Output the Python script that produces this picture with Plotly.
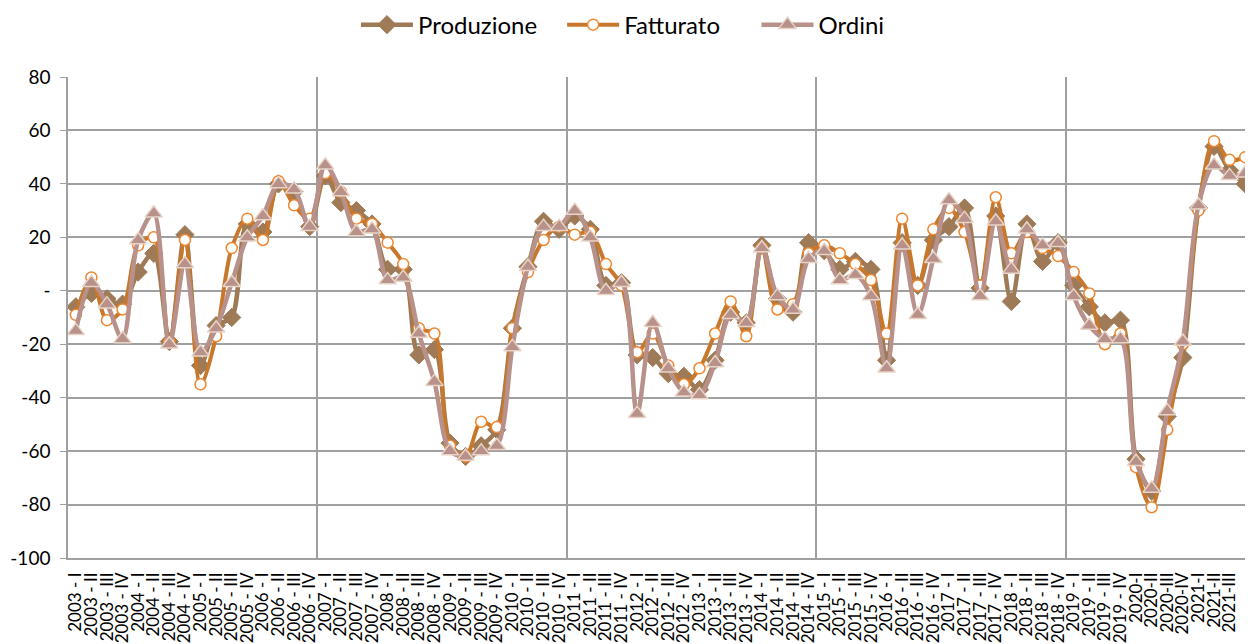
import plotly.graph_objects as go

years = list(range(2003, 2022))
quarters = ["I", "II", "III", "IV"]
labels = []
for y in years:
    for q in quarters:
        labels.append(f"{y}-{q}" if y >= 2020 else f"{y} - {q}")

produzione = [
    -6, -1, -3, -5, 7, 14, -19, 21, -28, -13, -10, 25, 22, 40, 37, 24,
    43, 33, 30, 25, 8, 8, -24, -22, -57, -62, -58, -52, -14, 9, 26, 23,
    28, 23, 2, 3, -24, -25, -31, -32, -37, -26, -8, -12, 17, -3, -8, 18,
    15, 8, 11, 8, -26, 18, 2, 19, 24, 31, 1, 28, -4, 25, 11, 18,
    2, -6, -12, -11, -63, -75, -47, -25, 31, 54, 45, 40,
]
fatturato = [
    -9, 5, -11, -7, 17, 20, -19, 19, -35, -17, 16, 27, 19, 41, 32, 27,
    44, 37, 27, 25, 18, 10, -14, -16, -58, -62, -49, -51, -14, 7, 19, 24,
    21, 22, 10, 2, -23, -16, -28, -35, -29, -16, -4, -17, 16, -7, -5, 14,
    17, 14, 10, 4, -16, 27, 2, 23, 31, 22, 2, 35, 14, 22, 16, 13,
    7, -1, -20, -16, -66, -81, -52, -20, 30, 56, 49, 50,
]
ordini = [
    -15, 3, -5, -18, 19, 29, -20, 10, -23, -14, 3, 20, 28, 40, 38, 24,
    47, 37, 22, 23, 4, 5, -16, -34, -60, -62, -60, -58, -21, 9, 24, 24,
    30, 20, 0, 3, -46, -12, -29, -38, -39, -27, -9, -12, 16, -2, -7, 12,
    15, 4, 6, -2, -29, 17, -9, 12, 34, 27, -2, 26, 8, 23, 17, 18,
    -2, -13, -18, -18, -64, -74, -45, -19, 32, 47, 43, 44,
]

y_ticks = list(range(-100, 81, 20))
y_ticktext = ["-" if v == 0 else str(v) for v in y_ticks]

idx = list(range(len(labels)))
# vertical gridlines between every 4-year block (between categories)
block_edges = [i - 0.5 for i in idx if i > 0 and i % 16 == 0]

fig = go.Figure()
fig.add_trace(go.Scatter(
    x=idx, y=produzione, name="Produzione", mode="lines+markers", legend="legend",
    line=dict(color="#9E7B56", width=4.5, shape="spline", smoothing=0.9),
    marker=dict(symbol="diamond", size=14, color="#9E7B56",
                line=dict(color="#9E7B56", width=1)),
))
fig.add_trace(go.Scatter(
    x=idx, y=fatturato, name="Fatturato", mode="lines+markers", legend="legend2",
    line=dict(color="#C8782C", width=4, shape="spline", smoothing=0.9),
    marker=dict(symbol="circle", size=11, color="white",
                line=dict(color="#F0862E", width=1.5)),
))
fig.add_trace(go.Scatter(
    x=idx, y=ordini, name="Ordini", mode="lines+markers", legend="legend3",
    line=dict(color="#B8918A", width=4.5, shape="spline", smoothing=0.9),
    marker=dict(symbol="triangle-up", size=15, color="#B8918A",
                line=dict(color="#E8D4C6", width=1.5)),
))

leg_common = dict(orientation="h", xanchor="left", y=1.108, yanchor="middle",
                  font=dict(size=24), itemwidth=52, bgcolor="rgba(0,0,0,0)")

fig.update_layout(
    width=1245, height=636,
    margin=dict(l=60, r=0, t=69, b=86, autoexpand=False),
    paper_bgcolor="white", plot_bgcolor="white",
    font=dict(family="Lato, Open Sans, sans-serif", color="black"),
    showlegend=True,
    legend=dict(x=0.243, **leg_common),
    legend2=dict(x=0.417, **leg_common),
    legend3=dict(x=0.581, **leg_common),
    xaxis=dict(
        range=[-0.5, len(labels) - 0.5],
        tickvals=idx, ticktext=labels, tickangle=-90,
        tickfont=dict(size=17), showgrid=False,
        showline=True, linecolor="#A0A0A0", linewidth=1.5,
        ticks="", ticklabelstandoff=6, zeroline=False, automargin=False,
        minor=dict(tickvals=block_edges, showgrid=True, gridcolor="#A0A0A0", gridwidth=1.5, ticks=""),
    ),
    yaxis=dict(
        range=[-100, 80], tickvals=y_ticks, ticktext=y_ticktext,
        tickfont=dict(size=19), showgrid=True, gridcolor="#A0A0A0", gridwidth=1.5,
        showline=True, linecolor="#A0A0A0", linewidth=1.5,
        ticks="outside", ticklen=6, tickcolor="#A0A0A0", zeroline=False,
        ticklabelstandoff=6, automargin=False,
    ),
)

fig.write_html("out.html")
